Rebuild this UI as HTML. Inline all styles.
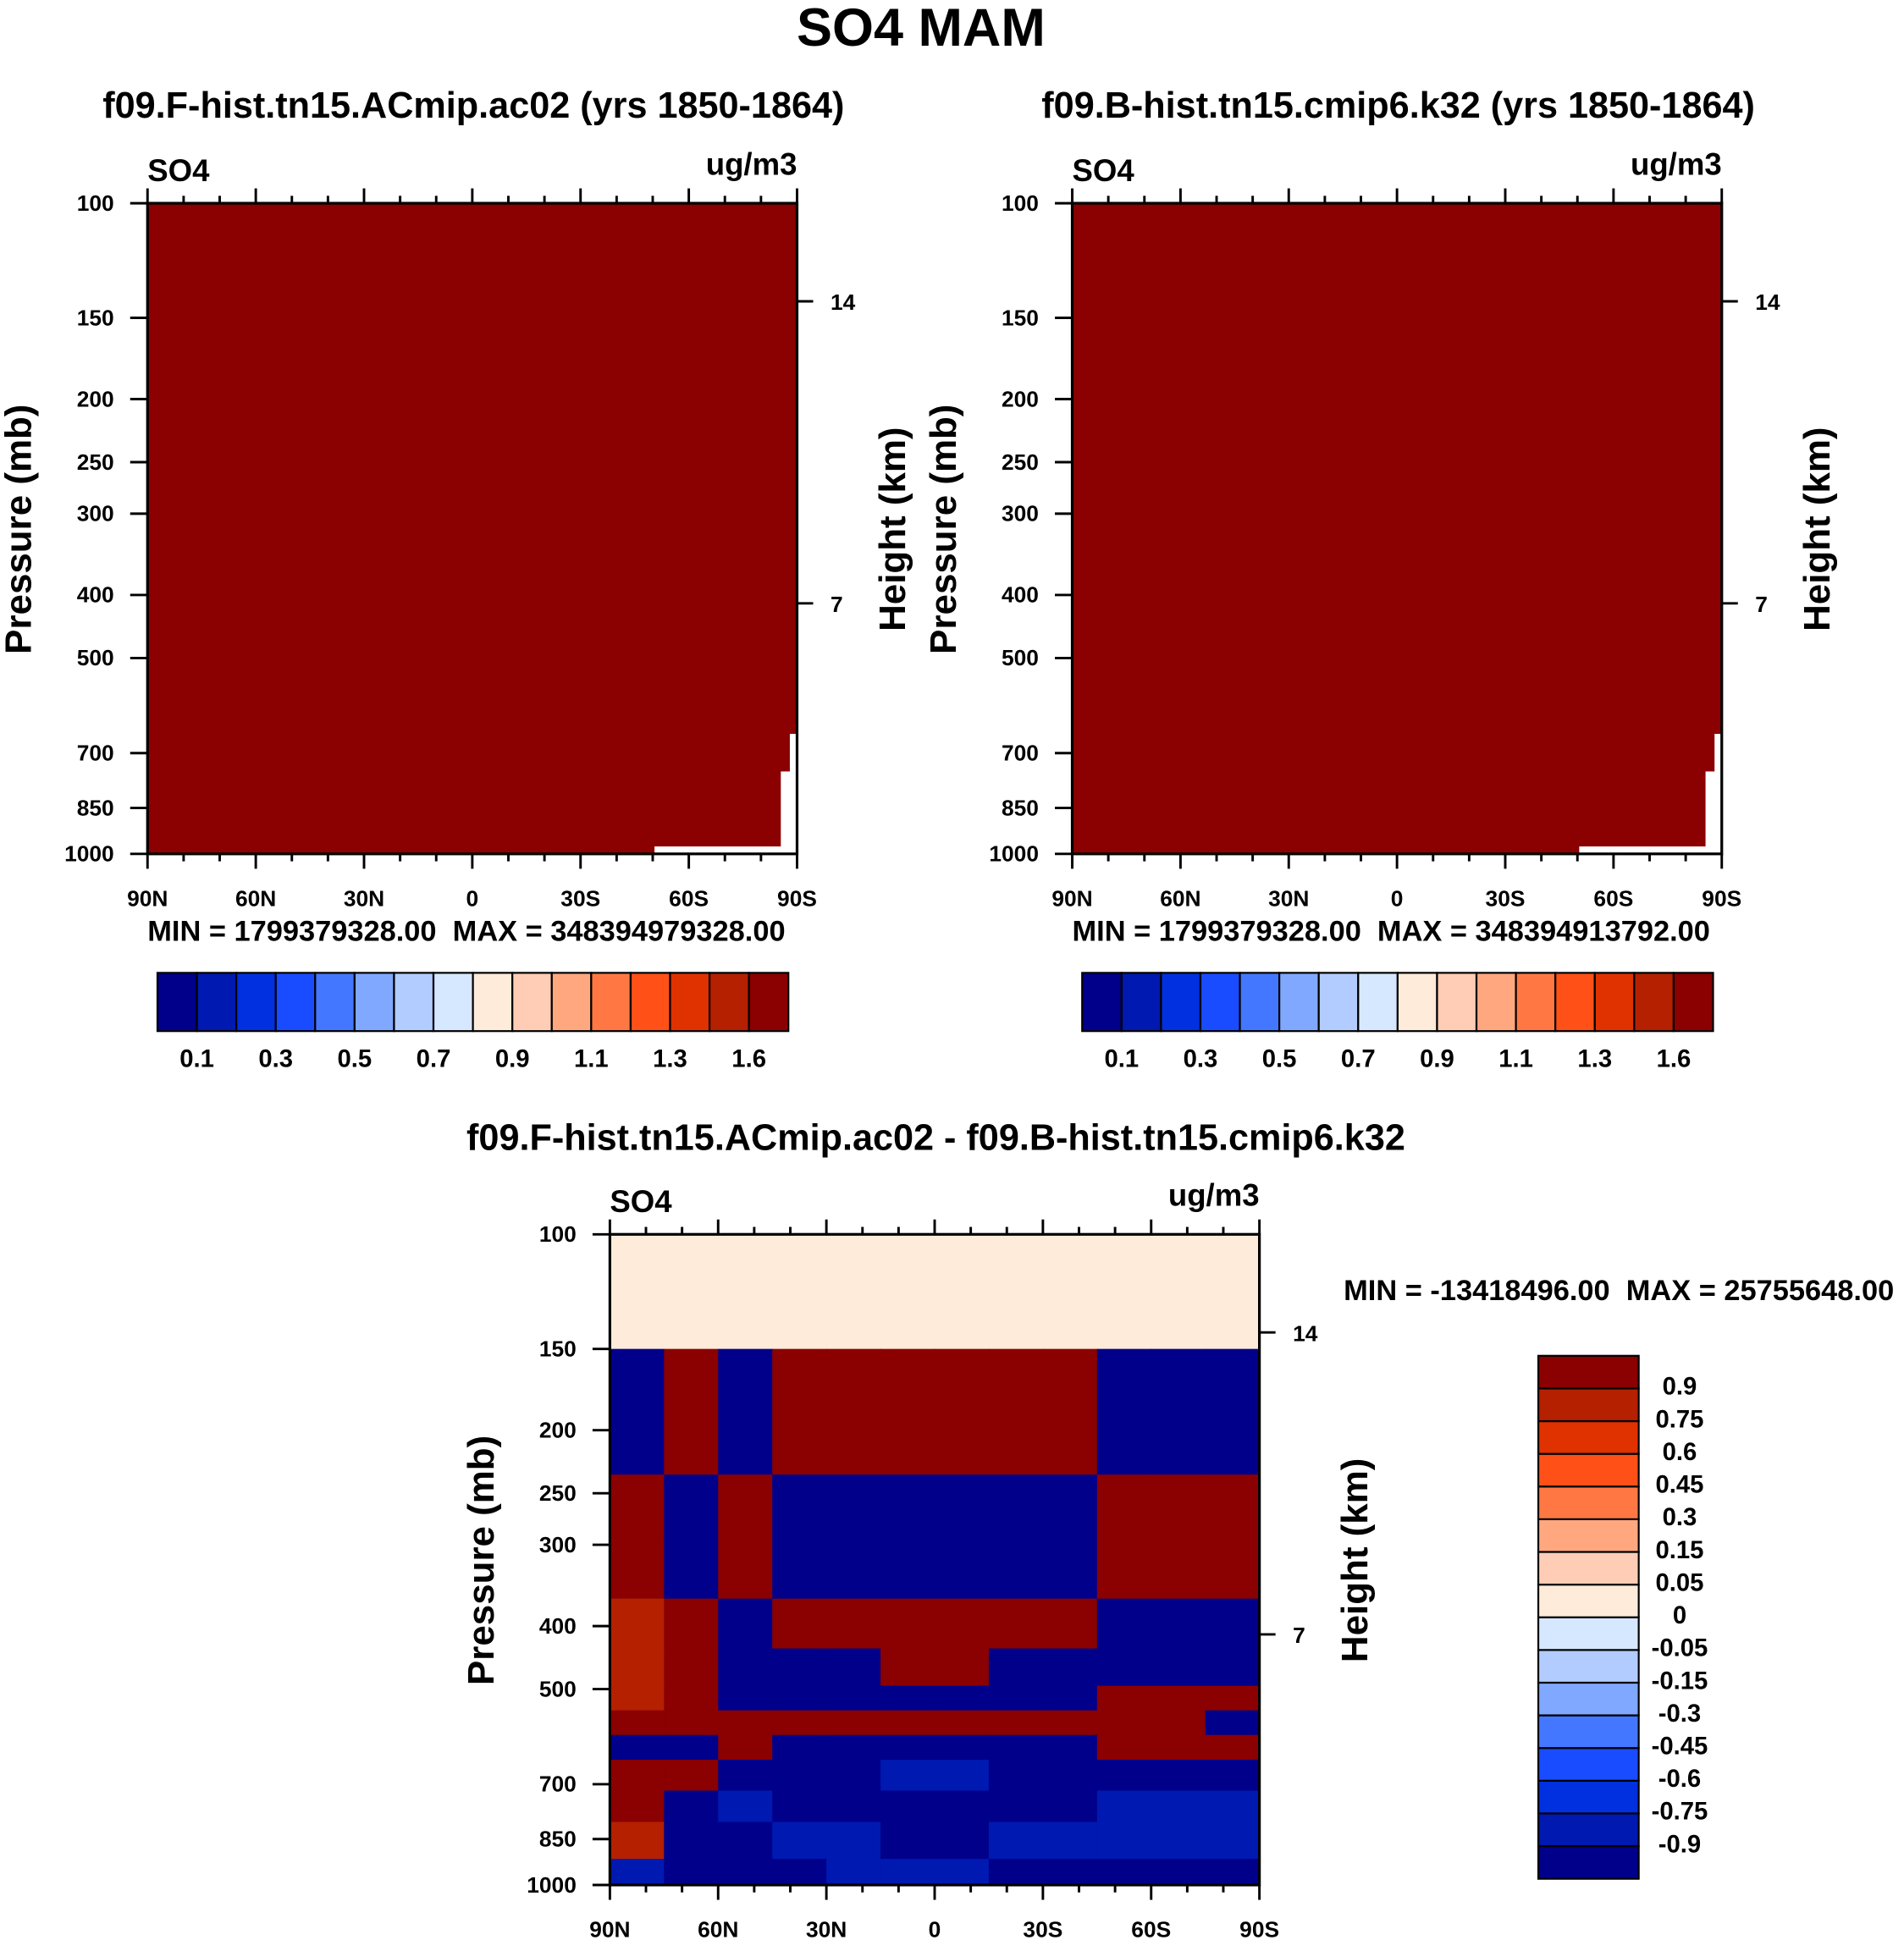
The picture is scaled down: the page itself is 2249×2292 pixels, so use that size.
<!DOCTYPE html>
<html><head><meta charset="utf-8"><style>
html,body{margin:0;padding:0;background:#fff}
svg{display:block}
text{font-family:"Liberation Sans",Arial,sans-serif;font-weight:bold;fill:#000;white-space:pre}
</style></head><body>
<svg id="fig" xmlns="http://www.w3.org/2000/svg" width="2249" height="2292" viewBox="0 0 1536 1565.4">
<rect width="1536" height="1566" fill="#fff"/>
<text x="743" y="37" font-size="43" text-anchor="middle">SO4 MAM</text>
<g id="g"></g>
</svg>
<script>
// ---- data ----
const colors = ['#00008a','#0019b0','#0030e0','#1a4cff','#4477ff','#80a8ff','#b3ccff','#d6e8ff','#ffebd9','#ffcdb5','#ffa880','#ff7844','#ff5018','#e03200','#b42000','#8b0000'];
const absLevels = [0.05,0.1,0.2,0.3,0.4,0.5,0.6,0.7,0.8,0.9,1.0,1.1,1.2,1.3,1.6];
const absLabels = ['0.1','0.3','0.5','0.7','0.9','1.1','1.3','1.6'];
const diffLevels = [-0.9,-0.75,-0.6,-0.45,-0.3,-0.15,-0.05,0,0.05,0.15,0.3,0.45,0.6,0.75,0.9];
const diffLabels = ['-0.9','-0.75','-0.6','-0.45','-0.3','-0.15','-0.05','0','0.05','0.15','0.3','0.45','0.6','0.75','0.9'];
const pTicks = [100,150,200,250,300,400,500,700,850,1000];
const latTicks = [90,60,30,0,-30,-60,-90];
const latTickLabels = ['90N','60N','30N','0','30S','60S','90S'];
const heightTicks = [14,7];
const heightPress = [141.5,412];
// panel A/B: uniform field with missing region near 90S surface
const absValue = 1.7;
const missLat1 = [-50.5,-85.5,-88];
const missLat2 = [-90,-90,-90];
const missP1 = [974,747,654];
const missP2 = [1000,1000,1000];
// difference field grid
const diffLatEdges = [90,75,60,45,30,15,0,-15,-30,-45,-60,-75,-90];
const diffPEdges = [100,150,234,292,363,433,494,539,588,642,716,800,912,1000];
const diffVals = [
 [0.02,0.02,0.02,0.02,0.02,0.02,0.02,0.02,0.02,0.02,0.02,0.02],
 [-1,1,-1,1,1,1,1,1,1,-1,-1,-1],
 [1,-1,1,-1,-1,-1,-1,-1,-1,1,1,1],
 [1,-1,1,-1,-1,-1,-1,-1,-1,1,1,1],
 [0.8,1,-1,1,1,1,1,1,1,-1,-1,-1],
 [0.8,1,-1,-1,-1,1,1,-1,-1,-1,-1,-1],
 [0.8,1,-1,-1,-1,-1,-1,-1,-1,1,1,1],
 [1,1,1,1,1,1,1,1,1,1,1,-1],
 [-1,-1,1,-1,-1,-1,-1,-1,-1,1,1,1],
 [1,1,-1,-1,-1,-0.8,-0.8,-1,-1,-1,-1,-1],
 [1,-1,-0.8,-1,-1,-1,-1,-1,-1,-0.8,-0.8,-0.8],
 [0.8,-1,-1,-0.8,-0.8,-1,-1,-0.8,-0.8,-0.8,-0.8,-0.8],
 [-0.8,-1,-1,-1,-0.8,-0.8,-0.8,-1,-1,-1,-1,-1]
];

// ---- drawing ----
const NS='http://www.w3.org/2000/svg';
const G=document.getElementById('g');
function el(tag,attrs,parent){const e=document.createElementNS(NS,tag);for(const k in attrs)e.setAttribute(k,attrs[k]);(parent||G).appendChild(e);return e;}
function txt(s,attrs,parent){const e=el('text',attrs,parent);e.textContent=s;return e;}
function colorFor(v,levels){let i=0;while(i<levels.length&&v>=levels[i])i++;return colors[i];}

function panel(px,py,opts){
  const W=524,H=525;
  const g=el('g',{});
  
  
  const xs=lat=>px+(90-lat)/180*W;
  const ys=p=>py+Math.log10(p/100)*H;
  if(opts.kind==='abs'){
    const r=el('rect',{x:px,y:py,width:W,height:H,fill:colorFor(absValue,absLevels)},g);
    
    
    for(let i=0;i<missLat1.length;i++){
      const m=el('rect',{x:xs(missLat1[i]),y:ys(missP1[i]),width:xs(missLat2[i])-xs(missLat1[i]),height:ys(missP2[i])-ys(missP1[i]),fill:'#fff'},g);
      
      
    }
  } else {
    for(let r=0;r<diffVals.length;r++)for(let c=0;c<diffVals[r].length;c++){
      const x1=xs(diffLatEdges[c]),x2=xs(diffLatEdges[c+1]);
      const y1=ys(diffPEdges[r]),y2=ys(diffPEdges[r+1]);
      const cell=el('rect',{x:x1,y:y1,width:x2-x1+0.6,height:y2-y1+0.6,fill:colorFor(diffVals[r][c],diffLevels)},g);
      
      
    }
  }
  const fr=el('rect',{x:px,y:py,width:W,height:H,fill:'none',stroke:'#000','stroke-width':2.2},g);
  
  
  pTicks.forEach(p=>{
    const y=ys(p);
    el('line',{x1:px-14,x2:px,y1:y,y2:y,stroke:'#000','stroke-width':2},g);
    const t=txt(String(p),{x:px-27,y:y+6,'font-size':18,'text-anchor':'end'},g);
    
    
  });
  for(let lat=90;lat>=-90;lat-=10){
    const x=xs(lat),maj=lat%30===0,L=maj?12:6;
    el('line',{x1:x,x2:x,y1:py,y2:py-L,stroke:'#000','stroke-width':2},g);
    el('line',{x1:x,x2:x,y1:py+H,y2:py+H+L,stroke:'#000','stroke-width':2},g);
  }
  latTicks.forEach((lat,i)=>{
    const t=txt(latTickLabels[i],{x:xs(lat),y:py+H+42,'font-size':18,'text-anchor':'middle'},g);
    
    
  });
  heightTicks.forEach((h,i)=>{
    const y=ys(heightPress[i]);
    el('line',{x1:px+W,x2:px+W+13,y1:y,y2:y,stroke:'#000','stroke-width':2},g);
    const t=txt(String(h),{x:px+W+27,y:y+7,'font-size':18},g);
    
    
  });
  let t=txt('SO4',{x:px,y:py-18,'font-size':25},g);
  
  t=txt('ug/m3',{x:px+W,y:py-23,'font-size':25,'text-anchor':'end'},g);
  
  t=txt('Pressure (mb)',{x:0,y:0,'font-size':30,'text-anchor':'middle',transform:`translate(${px-94},${py+263}) rotate(-90)`},g);
  
  t=txt('Height (km)',{x:0,y:0,'font-size':30,'text-anchor':'middle',transform:`translate(${px+W+87},${py+263}) rotate(-90)`},g);
  
}

function hbar(x0,y0){
  const g=el('g',{});
  
  
  const w=509/16,h=47;
  colors.forEach((c,i)=>{
    const r=el('rect',{x:x0+i*w,y:y0,width:w,height:h,fill:c,stroke:'#000','stroke-width':1.5},g);
    
    
  });
  absLabels.forEach((s,i)=>{
    const t=txt(s,{x:x0+(2*i+1)*w,y:y0+76,'font-size':20,'text-anchor':'middle'},g);
    
    
  });
}
function vbar(x0,y0){
  const g=el('g',{});
  
  
  const w=81,h=422/16;
  colors.forEach((c,i)=>{
    const r=el('rect',{x:x0,y:y0+(15-i)*h,width:w,height:h,fill:c,stroke:'#000','stroke-width':1.5},g);
    
    
  });
  diffLabels.forEach((s,i)=>{
    const y=y0+(15-i)*h+5;
    const t=txt(s,{x:x0+114,y:y,'font-size':20,'text-anchor':'middle'},g);
    
    
  });
}

let t=txt('f09.F-hist.tn15.ACmip.ac02 (yrs 1850-1864)',{x:382,y:95,'font-size':29.5,'text-anchor':'middle'});

panel(119,164,{kind:'abs',name:'left-panel'});
t=txt('MIN = 1799379328.00  MAX = 348394979328.00',{x:119,y:759,'font-size':23.5});

hbar(127,785);
t=txt('f09.B-hist.tn15.cmip6.k32 (yrs 1850-1864)',{x:1128,y:95,'font-size':29.5,'text-anchor':'middle'});

panel(865,164,{kind:'abs',name:'right-panel'});
t=txt('MIN = 1799379328.00  MAX = 348394913792.00',{x:865,y:759,'font-size':23.5});

hbar(873,785);
t=txt('f09.F-hist.tn15.ACmip.ac02 - f09.B-hist.tn15.cmip6.k32',{x:755,y:928,'font-size':29.5,'text-anchor':'middle'});

panel(492,996,{kind:'diff',name:'diff-panel'});
t=txt('MIN = -13418496.00  MAX = 25755648.00',{x:1084,y:1049,'font-size':23.5});

vbar(1241,1094);
</script>
</body></html>
